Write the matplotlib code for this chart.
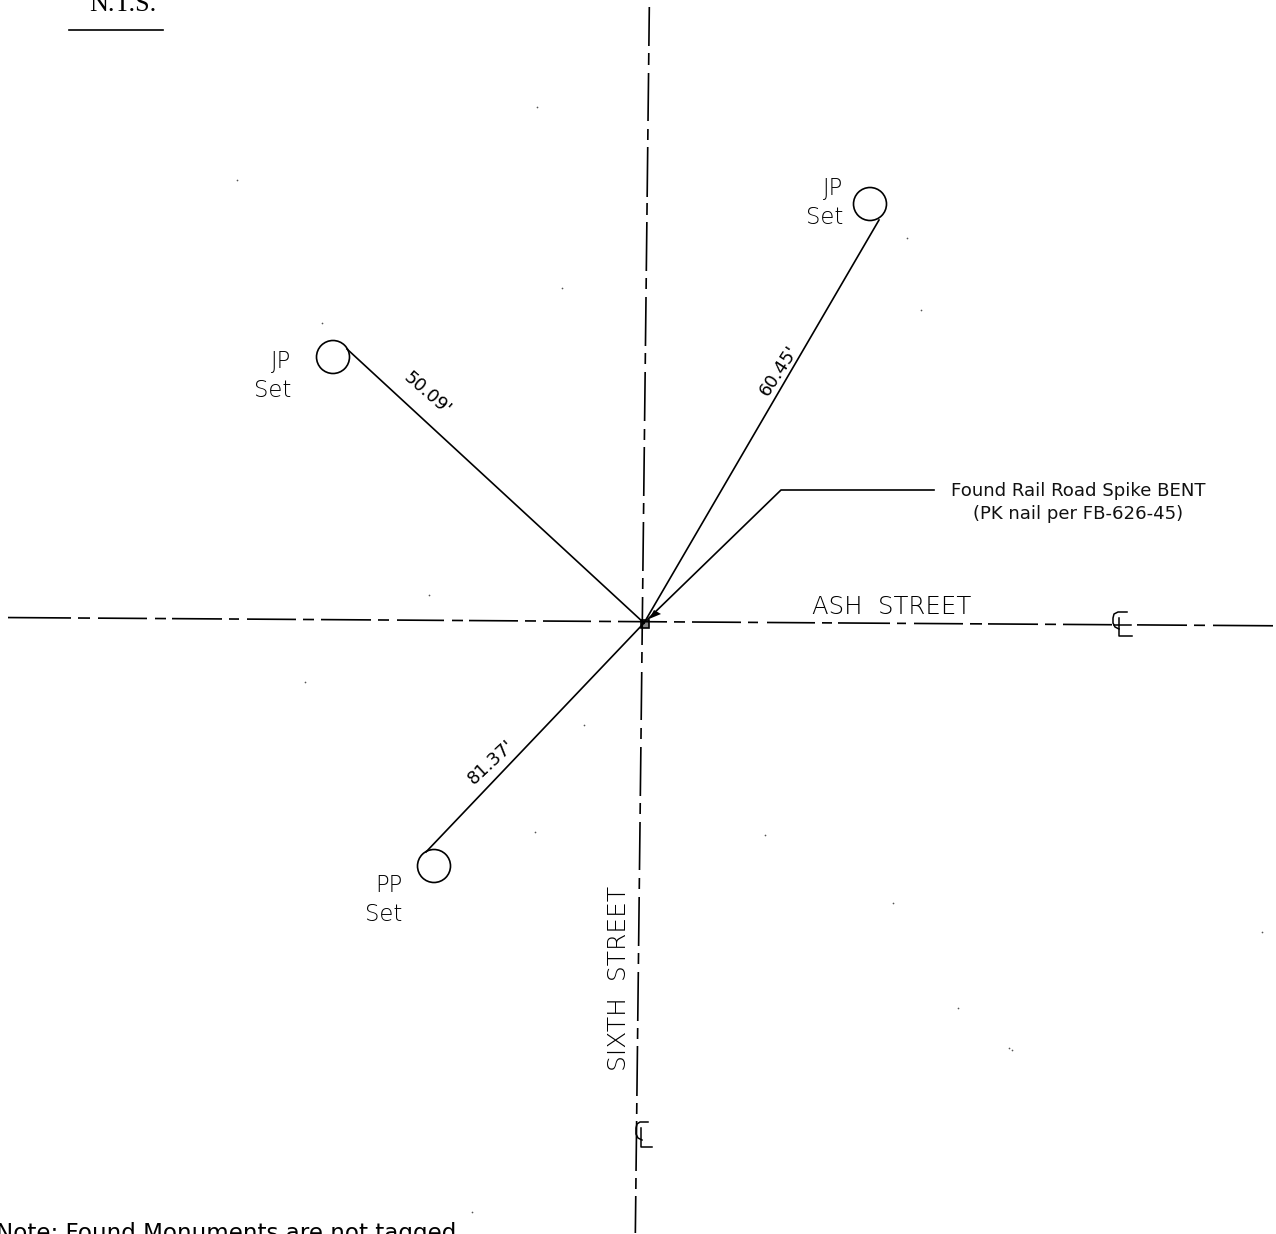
import matplotlib
matplotlib.use("Agg")
import matplotlib.pyplot as plt
from matplotlib.patches import Circle

# Survey geometry, in drawing units (origin top-left, y down)
center = (644, 623)
monument_labels = ["JP\nSet", "JP\nSet", "PP\nSet"]
monument_x = [870, 333, 434]
monument_y = [204, 357, 866]
monument_r = [16.5, 16.5, 16.5]
tie_start_x = [879, 347, 426]
tie_start_y = [220, 349, 852]
label_x = [843, 291, 402]
label_y = [203, 376, 900]
distance_labels = ["60.45'", "50.09'", "81.37'"]
distance_x = [779, 427, 491]
distance_y = [371, 394, 762]
distance_rot = [57, -41, 43]

# centerline dash runs: (start, end)
ash_runs = [(8, 71), (78, 90), (98, 147), (155, 166), (172, 222), (229, 239), (247, 296), (303, 314),
            (321, 371), (378, 389), (397, 444), (452, 463), (469, 518), (525, 536), (543, 591), (599, 611),
            (618, 667), (674, 685), (692, 741), (748, 758), (767, 815), (822, 832), (838, 890), (897, 906),
            (914, 963), (970, 982), (988, 1038), (1045, 1056), (1063, 1112), (1137, 1187), (1194, 1205),
            (1213, 1273)]
sixth_runs = [(7, 46), (53, 65), (73, 121), (129, 140), (147, 197), (203, 215), (222, 271), (278, 289),
              (297, 346), (353, 364), (372, 421), (429, 440), (447, 496), (503, 514), (522, 571), (578, 589),
              (597, 645), (652, 663), (672, 720), (728, 739), (747, 796), (803, 814), (822, 870), (878, 889),
              (897, 946), (953, 964), (972, 1021), (1028, 1039), (1046, 1096), (1103, 1114), (1121, 1171),
              (1178, 1189), (1196, 1233)]
leader_x = [648, 781, 934]
leader_y = [619, 490, 490]
speck_x = [562, 322, 429, 537, 584, 305, 765, 893, 907, 921, 958, 1009, 1262, 472, 535, 237, 1012]
speck_y = [288, 323, 595, 107, 725, 682, 835, 903, 238, 310, 1008, 1048, 932, 1212, 832, 180, 1050]

fig = plt.figure(figsize=(12.76, 12.34), dpi=100, facecolor="white")
ax = fig.add_axes([0, 0, 1, 1])
ax.set_xlim(0, 1276)
ax.set_ylim(1234, 0)
ax.axis("off")
cad = ["DejaVu Sans"]
lw = 1.2

for a, b in ash_runs:
    ax.plot([a, b], [617.5 + a * 0.0065, 617.5 + b * 0.0065], color="black", lw=lw, solid_capstyle="butt")
for a, b in sixth_runs:
    ax.plot([649.4 - a * 0.0114, 649.4 - b * 0.0114], [a, b], color="black", lw=lw, solid_capstyle="butt")

for i in range(3):
    ax.add_patch(Circle((monument_x[i], monument_y[i]), monument_r[i], fill=False, ec="black", lw=lw))
    ax.plot([tie_start_x[i], center[0]], [tie_start_y[i], center[1]], color="black", lw=lw)
    ax.text(label_x[i], label_y[i], monument_labels[i], family=cad, fontsize=16.4, color="black",
            ha="right", va="center", multialignment="right", linespacing=1.29, fontweight="light")
    ax.text(distance_x[i], distance_y[i], distance_labels[i], family=cad, fontsize=13, color="black",
            ha="center", va="center", rotation=distance_rot[i], rotation_mode="anchor")

# leader and arrowhead
ax.plot(leader_x, leader_y, color="black", lw=lw)
ax.fill([649, 654, 661], [619, 610, 614], color="black", lw=0)
ax.add_patch(plt.Rectangle((641, 620), 8, 8, fill=True, fc="#888888", ec="black", lw=1.2))

ax.text(1078, 502.5, "Found Rail Road Spike BENT\n(PK nail per FB-626-45)", family=cad,
        fontsize=13.1, ha="center", va="center", color="#111111", linespacing=1.35)
ax.text(892, 607, "ASH  STREET", family=cad, fontsize=17.6, ha="center", va="center", color="black",
        fontweight="light")
ax.text(619, 978, "SIXTH  STREET", family=cad, fontsize=18, ha="center", va="center",
        rotation=90, color="black", fontweight="light")

# centerline symbols
ax.plot([1119, 1119, 1132], [618, 636, 636], color="black", lw=1.1)
ax.plot([1127, 1118, 1114, 1113, 1113, 1115, 1119], [612, 612, 614, 618, 623, 627, 629], color="black", lw=1.1)
ax.plot([1114, 1131], [625, 625], color="black", lw=1.1)
ax.plot([641, 641, 652], [1128, 1147, 1147], color="black", lw=1.1)
ax.plot([648, 640, 637, 636, 636, 638, 642], [1122, 1122, 1124, 1128, 1134, 1138, 1140], color="black", lw=1.1)

ax.text(123, 11, "N.T.S.", family=["Liberation Serif"], fontsize=18.8, ha="center", va="baseline", color="black")
ax.plot([69, 163], [29.5, 29.5], color="black", lw=1.2)
ax.text(-4, 1240, "Note: Found Monuments are not tagged", family=cad, fontsize=16.6, ha="left",
        va="baseline", color="black")

ax.scatter(speck_x, speck_y, s=1.5, color="#555555", linewidths=0)
fig.savefig("out.png", dpi=100)
